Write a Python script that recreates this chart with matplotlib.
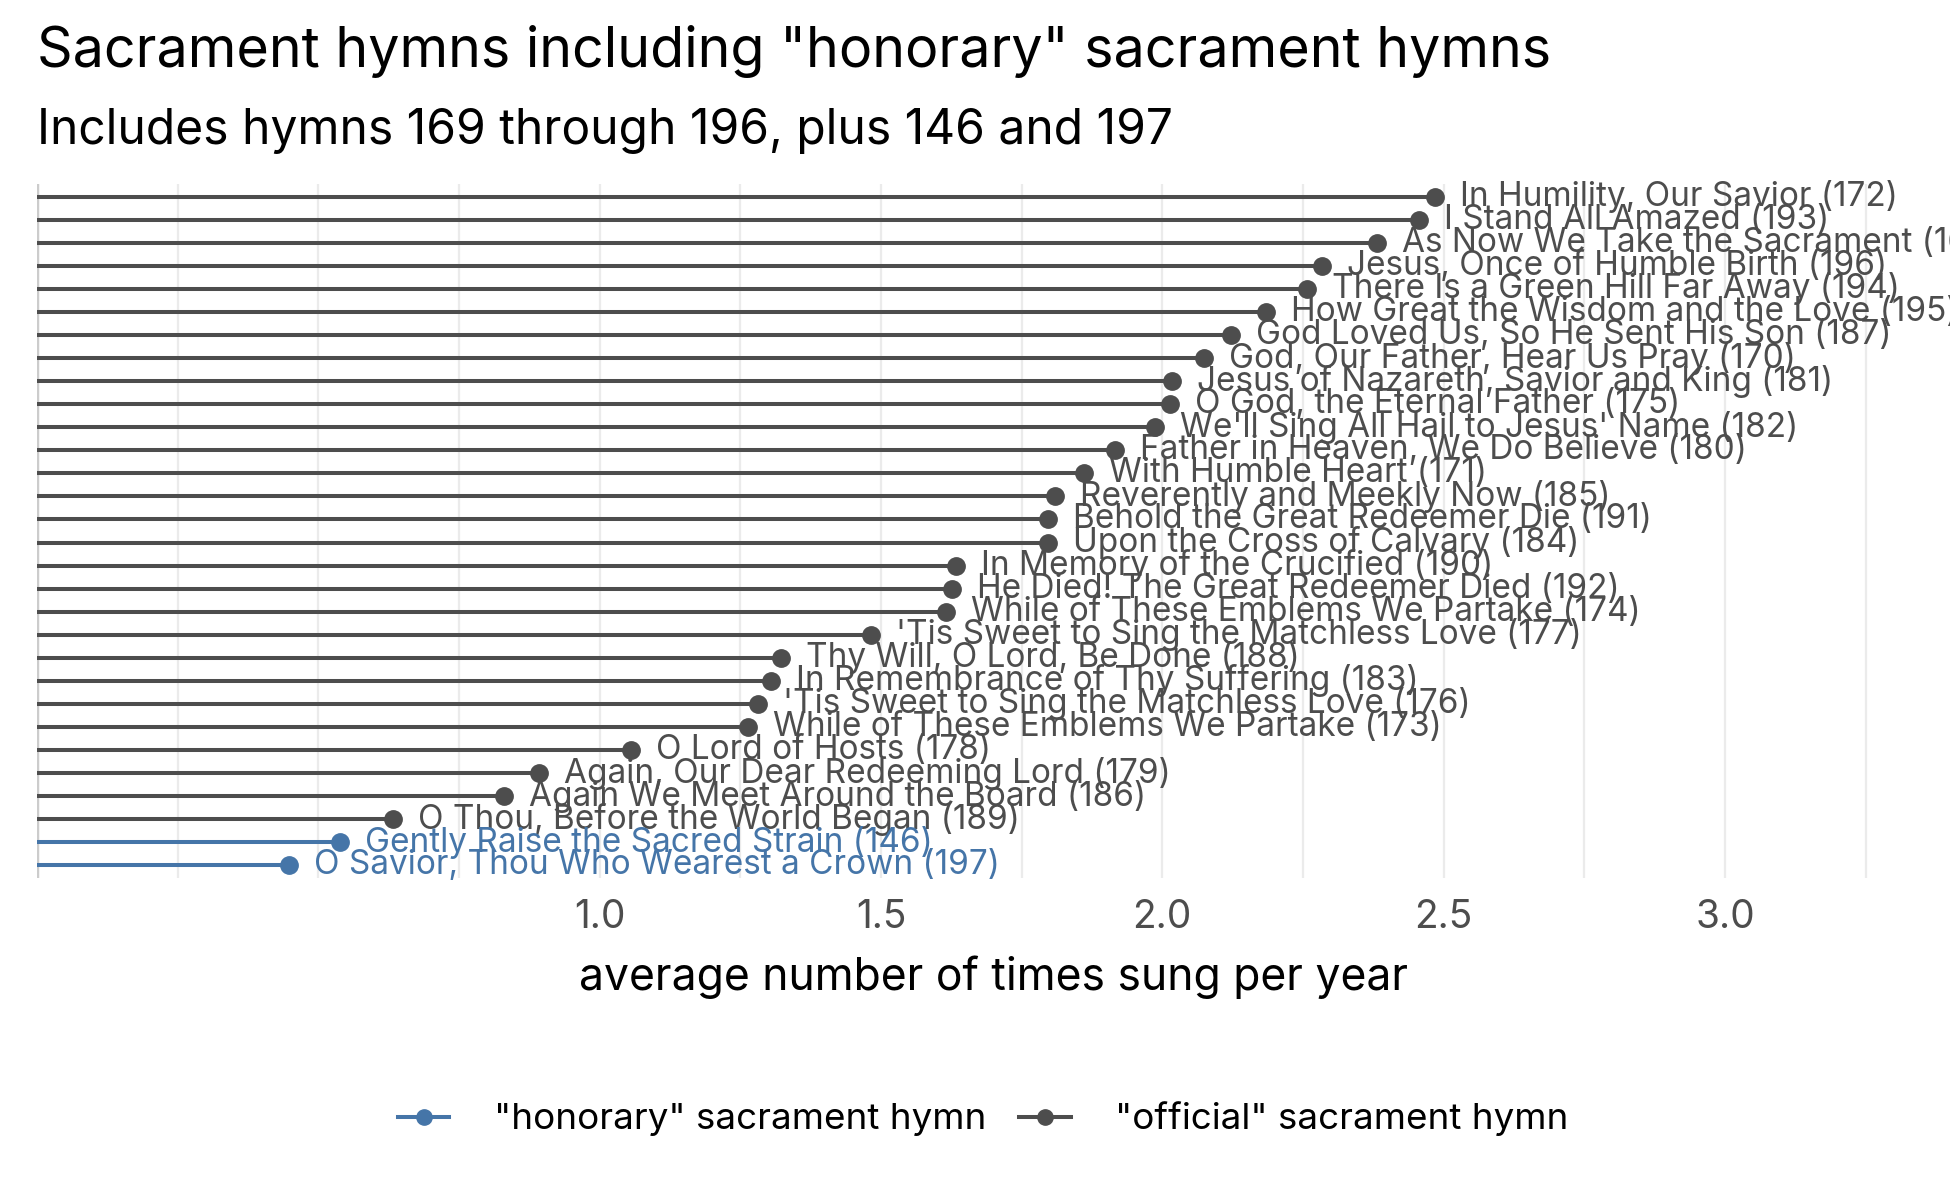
import numpy as np
import matplotlib
matplotlib.use("Agg")
import matplotlib.pyplot as plt
from matplotlib.lines import Line2D

plt.rcParams['font.family'] = ['Inter', 'DejaVu Sans']

# hymn titles, hymn numbers and average times sung per year (top to bottom)
titles = [
    "In Humility, Our Savior", "I Stand All Amazed", "As Now We Take the Sacrament",
    "Jesus, Once of Humble Birth", "There Is a Green Hill Far Away",
    "How Great the Wisdom and the Love", "God Loved Us, So He Sent His Son",
    "God, Our Father, Hear Us Pray", "Jesus of Nazareth, Savior and King",
    "O God, the Eternal Father", "We'll Sing All Hail to Jesus' Name",
    "Father in Heaven, We Do Believe", "With Humble Heart", "Reverently and Meekly Now",
    "Behold the Great Redeemer Die", "Upon the Cross of Calvary",
    "In Memory of the Crucified", "He Died! The Great Redeemer Died",
    "While of These Emblems We Partake", "'Tis Sweet to Sing the Matchless Love",
    "Thy Will, O Lord, Be Done", "In Remembrance of Thy Suffering",
    "'Tis Sweet to Sing the Matchless Love", "While of These Emblems We Partake",
    "O Lord of Hosts", "Again, Our Dear Redeeming Lord", "Again We Meet Around the Board",
    "O Thou, Before the World Began", "Gently Raise the Sacred Strain",
    "O Savior, Thou Who Wearest a Crown",
]
numbers = [172, 193, 169, 196, 194, 195, 187, 170, 181, 175, 182, 180, 171, 185, 191,
           184, 190, 192, 174, 177, 188, 183, 176, 173, 178, 179, 186, 189, 146, 197]
avg_sung = [2.485, 2.456, 2.381, 2.283, 2.257, 2.184, 2.122, 2.075, 2.018, 2.013,
            1.987, 1.916, 1.861, 1.810, 1.796, 1.796, 1.633, 1.626, 1.615, 1.482,
            1.323, 1.305, 1.281, 1.263, 1.055, 0.892, 0.830, 0.633, 0.538, 0.447]
honorary = [146, 197]

official_col = "#4d4d4d"
honorary_col = "#4575a8"

fig = plt.figure(figsize=(19.5, 12), dpi=100)
ax = fig.add_axes([37 / 1950, 1 - 878 / 1200, 1 - 37 / 1950, (878 - 184) / 1200])

n = len(titles)
ypos = np.arange(n, 0, -1)

for y, t, num, v in zip(ypos, titles, numbers, avg_sung):
    col = honorary_col if num in honorary else official_col
    ax.hlines(y, 0, v, color=col, lw=2.9, zorder=3)
    ax.plot(v, y, 'o', color=col, ms=12.5, zorder=4)
    ax.annotate(f"{t} ({num})", (v, y), xytext=(18, 0), textcoords='offset points',
                va='center', ha='left', fontsize=24, color=col, zorder=5,
                annotation_clip=False)

ax.set_xlim(0, 3.4)
ax.set_ylim(0.45, n + 0.55)
ax.set_xticks([1.0, 1.5, 2.0, 2.5, 3.0])
ax.set_xticks(np.arange(0.25, 3.4, 0.25), minor=True)
ax.set_yticks([])
ax.grid(axis='x', which='both', color='#ebebeb', lw=1.6, zorder=0)
ax.axvline(0, color='#cccccc', lw=2.5, zorder=1)
ax.tick_params(axis='x', which='both', length=0, labelsize=28, labelcolor='#4d4d4d', pad=15)
for s in ax.spines.values():
    s.set_visible(False)
ax.set_xlabel("average number of times sung per year", fontsize=32, labelpad=14)

fig.text(37 / 1950, 1 - 52 / 1200, 'Sacrament hymns including "honorary" sacrament hymns',
         fontsize=40, va='center', ha='left')
fig.text(37 / 1950, 1 - 131 / 1200, "Includes hymns 169 through 196, plus 146 and 197",
         fontsize=34.5, va='center', ha='left')

handles = [Line2D([], [], color=honorary_col, lw=2.9, marker='o', ms=11),
           Line2D([], [], color=official_col, lw=2.9, marker='o', ms=11)]
fig.legend(handles, ['"honorary" sacrament hymn', '"official" sacrament hymn'],
           loc='center', bbox_to_anchor=(983 / 1950, 1 - 1119 / 1200), ncol=2,
           frameon=False, fontsize=26.5, handlelength=1.4, handletextpad=1.2,
           columnspacing=0.9)

fig.savefig("out.png", dpi=100)
